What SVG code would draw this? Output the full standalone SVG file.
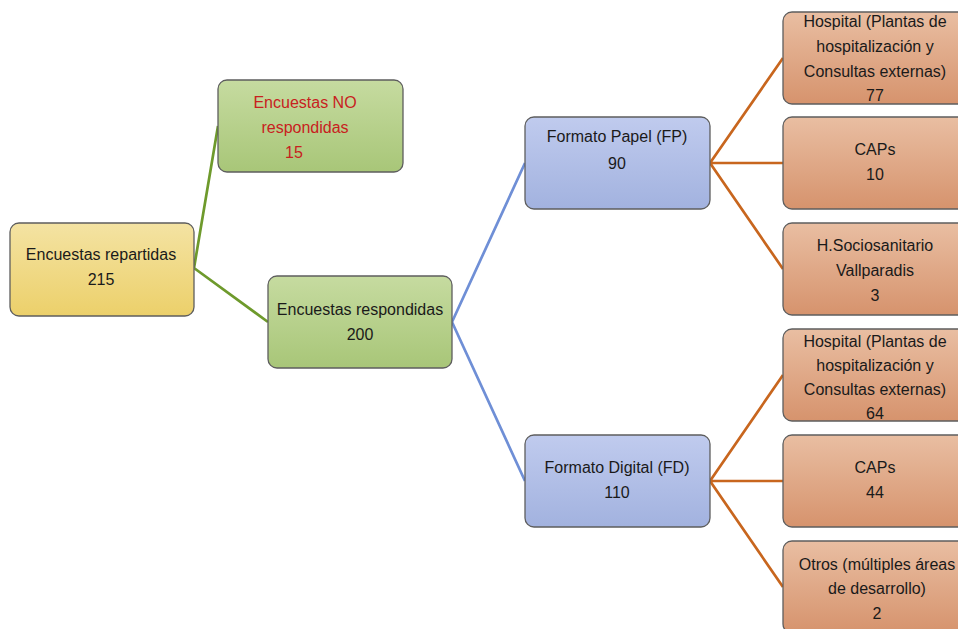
<svg xmlns="http://www.w3.org/2000/svg" width="958" height="629" viewBox="0 0 958 629">
<defs>
<linearGradient id="gy" x1="0" y1="0" x2="0" y2="1"><stop offset="0" stop-color="#f4e3a3"/><stop offset="1" stop-color="#ecd06a"/></linearGradient>
<linearGradient id="gg" x1="0" y1="0" x2="0" y2="1"><stop offset="0" stop-color="#c6dba0"/><stop offset="1" stop-color="#a8c678"/></linearGradient>
<linearGradient id="gb" x1="0" y1="0" x2="0" y2="1"><stop offset="0" stop-color="#c0cbee"/><stop offset="1" stop-color="#a2b2df"/></linearGradient>
<linearGradient id="go" x1="0" y1="0" x2="0" y2="1"><stop offset="0" stop-color="#e9bea2"/><stop offset="1" stop-color="#d6936d"/></linearGradient>
</defs>
<style>
rect{stroke:#5e5e5e;stroke-width:1.3}
text{font-family:"Liberation Sans",Arial,sans-serif;font-size:16px;fill:#1a1a1a;text-anchor:middle}
.red{fill:#c8211e}
.lg{stroke:#6e9a2c;stroke-width:2.7;fill:none}
.lb{stroke:#6f8fd6;stroke-width:2.7;fill:none}
.lo{stroke:#c8661e;stroke-width:2.7;fill:none}
</style>
<rect width="958" height="629" fill="#fff" style="stroke:none"/>
<g id="connectors">
<path class="lg" d="M194 268 L218 126 M194 268 L268 322"/>
<path class="lb" d="M452 322 L525 163 M452 322 L525 481"/>
<path class="lo" d="M710 163 L783 58 M710 163 L783 163 M710 163 L783 269"/>
<path class="lo" d="M710 481 L783 375 M710 481 L783 481 M710 481 L783 587"/>
</g>
<g id="n-repartidas"><rect x="10" y="223" width="184" height="93" rx="9" fill="url(#gy)"/><text x="101" y="260">Encuestas repartidas</text><text x="101" y="285">215</text></g>
<g id="n-no"><rect x="218" y="80" width="185" height="92" rx="9" fill="url(#gg)"/><text class="red" x="305" y="108">Encuestas NO</text><text class="red" x="305" y="133">respondidas</text><text class="red" x="294" y="158">15</text></g>
<g id="n-respondidas"><rect x="268" y="276" width="184" height="92" rx="9" fill="url(#gg)"/><text x="360" y="315">Encuestas respondidas</text><text x="360" y="340">200</text></g>
<g id="n-fp"><rect x="525" y="117" width="185" height="92" rx="9" fill="url(#gb)"/><text x="617" y="142">Formato Papel (FP)</text><text x="617" y="169">90</text></g>
<g id="n-fd"><rect x="525" y="435" width="185" height="92" rx="9" fill="url(#gb)"/><text x="617" y="473">Formato Digital (FD)</text><text x="617" y="498">110</text></g>
<g id="n-hosp1"><rect x="783" y="12" width="186" height="92" rx="9" fill="url(#go)"/><text x="875" y="27">Hospital (Plantas de</text><text x="875" y="52">hospitalización y</text><text x="875" y="77">Consultas externas)</text><text x="875" y="101">77</text></g>
<g id="n-caps1"><rect x="783" y="117" width="186" height="92" rx="9" fill="url(#go)"/><text x="875" y="155">CAPs</text><text x="875" y="180">10</text></g>
<g id="n-socio"><rect x="783" y="223" width="186" height="92" rx="9" fill="url(#go)"/><text x="875" y="251">H.Sociosanitario</text><text x="875" y="276">Vallparadis</text><text x="875" y="301">3</text></g>
<g id="n-hosp2"><rect x="783" y="329" width="186" height="92" rx="9" fill="url(#go)"/><text x="875" y="347">Hospital (Plantas de</text><text x="875" y="371">hospitalización y</text><text x="875" y="395">Consultas externas)</text><text x="875" y="419">64</text></g>
<g id="n-caps2"><rect x="783" y="435" width="186" height="92" rx="9" fill="url(#go)"/><text x="875" y="473">CAPs</text><text x="875" y="498">44</text></g>
<g id="n-otros"><rect x="783" y="541" width="186" height="92" rx="9" fill="url(#go)"/><text x="877" y="570">Otros (múltiples áreas</text><text x="877" y="594">de desarrollo)</text><text x="877" y="619">2</text></g>
</svg>
